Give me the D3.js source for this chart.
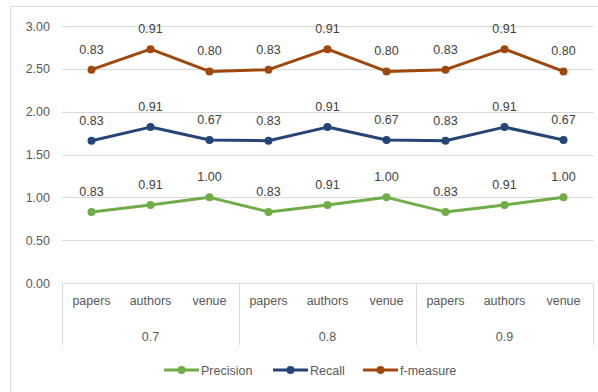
<!DOCTYPE html>
<html><head><meta charset="utf-8">
<script src="https://cdn.jsdelivr.net/npm/d3@7"></script>
<style>body{margin:0;background:#fff}svg{display:block}text{font-family:"Liberation Sans",Arial,sans-serif}</style>
</head><body><svg id="c" width="598" height="392"></svg>
<script>
const groups = ["0.7","0.8","0.9"];
const subcats = ["papers","authors","venue"];
const seriesNames = ["Precision","Recall","f-measure"];
const precision = [0.83,0.91,1.00,0.83,0.91,1.00,0.83,0.91,1.00];
const recall    = [0.83,0.91,0.67,0.83,0.91,0.67,0.83,0.91,0.67];
const fmeasure  = [0.83,0.91,0.80,0.83,0.91,0.80,0.83,0.91,0.80];
const yTicks = [0,0.5,1,1.5,2,2.5,3];
const colors = ["#70AD47","#264478","#9E480E"];

const svg = d3.select("#c");
// outer border
svg.append("rect").attr("x",10.5).attr("y",6.5).attr("width",600).attr("height",400)
  .attr("fill","none").attr("stroke","#d9d9d9");

const pL=62, pR=593, pT=26, pB=283;
const cats = [];
groups.forEach(g=>subcats.forEach(s=>cats.push(g+"|"+s)));
const x = d3.scaleBand().domain(cats).range([pL,pR]);
const y = d3.scaleLinear().domain([0,3]).range([pB,pT]);

// grid
svg.append("g").selectAll("line").data(yTicks.filter(t=>t>0)).join("line")
  .attr("x1",pL).attr("x2",pR).attr("y1",d=>Math.round(y(d))+0.5).attr("y2",d=>Math.round(y(d))+0.5)
  .attr("stroke","#d9d9d9").attr("stroke-width",1);
const ya = svg.append("g").attr("transform",`translate(${pL},0)`)
  .call(d3.axisLeft(y).tickValues(yTicks).tickFormat(d3.format(".2f")).tickSize(0).tickPadding(12));
ya.select(".domain").remove();
ya.selectAll("text").attr("font-size",12.5).attr("fill","#595959").style("font-family","Liberation Sans, Arial");

// category axis box
const axBottom = 345;
const ax = svg.append("g").attr("stroke","#d9d9d9").attr("fill","none");
ax.append("line").attr("x1",pL).attr("x2",pR).attr("y1",pB+0.5).attr("y2",pB+0.5);
const gBand = d3.scaleBand().domain(groups).range([pL,pR]);
[pL, ...groups.map(g=>gBand(g)+gBand.bandwidth())].forEach(xx=>{
  ax.append("line").attr("x1",Math.round(xx)+0.5).attr("x2",Math.round(xx)+0.5).attr("y1",pB).attr("y2",axBottom);
});
svg.append("g").selectAll("text").data(cats).join("text")
  .attr("x",d=>x(d)+x.bandwidth()/2).attr("y",305).attr("text-anchor","middle")
  .attr("font-size",12.5).attr("fill","#595959").text(d=>d.split("|")[1]);
svg.append("g").selectAll("text").data(groups).join("text")
  .attr("x",d=>gBand(d)+gBand.bandwidth()/2).attr("y",341).attr("text-anchor","middle")
  .attr("font-size",12.5).attr("fill","#595959").text(d=>d);

// stacked series
const raw = [precision, recall, fmeasure];
const cum = [];
raw.forEach((arr,i)=>cum.push(arr.map((v,j)=>v + (i>0?cum[i-1][j]:0))));
const line = d3.line().x((d,j)=>x(cats[j])+x.bandwidth()/2).y(d=>y(d));
raw.forEach((arr,i)=>{
  const g = svg.append("g");
  g.append("path").datum(cum[i]).attr("d",line).attr("fill","none")
    .attr("stroke",colors[i]).attr("stroke-width",3).attr("stroke-linejoin","round");
  g.selectAll("circle").data(cum[i]).join("circle")
    .attr("cx",(d,j)=>x(cats[j])+x.bandwidth()/2).attr("cy",d=>y(d)).attr("r",4).attr("fill",colors[i]);
  g.selectAll("text").data(arr).join("text")
    .attr("x",(d,j)=>x(cats[j])+x.bandwidth()/2).attr("y",(d,j)=>y(cum[i][j])-16)
    .attr("text-anchor","middle").attr("font-size",12.5).attr("fill","#404040")
    .text(d=>d3.format(".2f")(d));
});

// legend
const legX = [164, 273, 363];
seriesNames.forEach((n,i)=>{
  const g = svg.append("g").attr("transform",`translate(${legX[i]},370)`);
  g.append("line").attr("x1",0).attr("x2",35).attr("stroke",colors[i]).attr("stroke-width",3);
  g.append("circle").attr("cx",17.5).attr("r",4).attr("fill",colors[i]);
  g.append("text").attr("x",37).attr("y",4.5).attr("font-size",12.5).attr("fill","#595959").text(n);
});
</script></body></html>
